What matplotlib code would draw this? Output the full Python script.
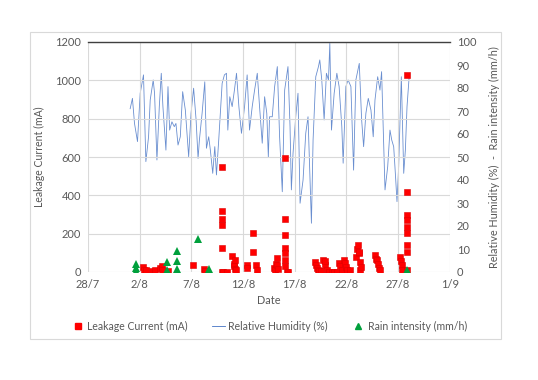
import matplotlib
matplotlib.use("Agg")
from matplotlib import pyplot as plt
from matplotlib.patches import Rectangle
import numpy as np
import pandas as pd

plt.rcParams['font.family'] = ['Lato', 'DejaVu Sans']

base = pd.Timestamp('2019-07-28')

# relative humidity trace (days after 28/7, %)
rh_day = [4.08, 4.30, 4.50, 4.79, 5.05, 5.37, 5.60, 5.86, 6.02, 6.31, 6.44, 6.67, 6.90, 7.09, 7.25,
          7.54, 7.74, 7.90, 8.12, 8.35, 8.51, 8.71, 8.93, 9.16, 9.42, 9.74, 9.97, 10.22, 10.46, 10.65,
          10.78, 11.04, 11.30, 11.46, 11.68, 11.84, 12.07, 12.27, 12.43, 12.65, 12.98, 13.20, 13.40,
          13.53, 13.72, 13.95, 14.17, 14.37, 14.60, 14.85, 15.15, 15.40, 15.63, 15.89, 16.12, 16.38,
          16.60, 16.86, 17.09, 17.30, 17.45, 17.57, 17.83, 18.06, 18.32, 18.54, 18.80, 19.03, 19.35,
          19.55, 19.68, 19.84, 20.10, 20.32, 20.52, 20.81, 21.07, 21.29, 21.62, 21.78, 22.04, 22.30,
          22.43, 22.62, 22.85, 23.07, 23.27, 23.40, 23.56, 23.82, 24.08, 24.30, 24.56, 24.69, 24.95,
          25.17, 25.44, 25.70, 25.92, 26.25, 26.48, 26.67, 26.89, 27.12, 27.38, 27.60, 27.77, 28.03,
          28.25, 28.41, 28.60, 28.74, 29.00, 29.22, 29.39, 29.58, 29.74, 29.90, 30.06, 30.32, 30.55,
          30.71, 30.87, 31.10]
rh_val = [71.0, 75.5, 64.6, 56.7, 77.7, 85.7, 48.0, 58.8, 74.8, 83.5, 77.7, 48.7, 71.9, 86.4, 71.9,
          53.0, 80.6, 61.7, 65.3, 63.2, 64.6, 55.2, 58.8, 78.4, 70.4, 50.1, 69.0, 79.9, 66.1, 49.4,
          57.4, 69.0, 82.7, 53.8, 58.8, 53.0, 42.9, 54.5, 42.2, 57.4, 82.0, 85.7, 86.4,
          61.7, 76.2, 71.9, 79.1, 86.4, 71.9, 60.3, 71.9, 85.7, 61.7, 71.9, 79.1, 86.4,
          71.9, 56.0, 76.2, 69.0, 50.0, 67.5, 67.5, 80.6, 89.3, 58.8, 34.9, 79.1, 89.3,
          63.2, 35.7, 51.6, 67.5, 77.7, 29.9, 40.0, 60.3, 67.5, 21.2, 57.4, 84.9, 89.3,
          92.2, 83.5, 66.1, 86.4, 83.5, 99.4, 61.7, 77.7, 86.4, 80.6, 63.2, 47.3, 80.6,
          83.5, 80.6, 44.3, 83.5, 90.7, 66.1, 54.5, 69.0, 75.5, 70.4, 58.8, 74.8, 84.9,
          79.1, 87.1, 57.4, 35.7, 45.8, 61.7, 57.4, 54.5, 42.9, 30.6, 45.8, 84.9, 42.9,
          53.0, 71.9, 86.4]

# leakage current (days after 28/7, mA)
lc_day = [5.30, 5.42, 5.60, 6.17, 6.49, 6.97, 7.13, 7.20, 7.77, 10.19, 11.23, 11.33,
          12.94, 12.94, 12.94, 12.94, 12.94, 12.94, 13.10, 13.43, 13.91, 14.10, 14.16, 14.23, 14.23,
          14.30, 15.36, 15.36, 15.94, 15.94, 16.26, 16.33,
          18.01, 18.05, 18.20, 18.27, 18.27, 18.35, 19.10, 19.10, 19.10, 19.10, 19.10, 19.10, 19.10,
          19.26, 19.36,
          21.97, 22.05, 22.14, 22.25, 22.35, 22.55, 22.78, 22.94, 22.90, 23.11, 23.30, 23.59, 23.80,
          24.08, 24.30, 24.40, 24.55, 24.78, 24.90, 24.98, 25.10, 25.36, 25.94, 26.05, 26.17, 26.20,
          26.25, 26.33, 26.33, 26.40, 27.78, 27.85, 27.95, 28.05, 28.15, 28.27, 30.20, 30.25, 30.37,
          30.37, 30.91, 30.91, 30.91, 30.91, 30.91, 30.91, 30.91, 30.91, 30.91]
lc_val = [25, 12, 8, 7, 10, 19, 31, 12, 5, 36, 14, 7,
          549, 320, 278, 245, 124, 2, 2, 2, 83, 40, 31, 63, 14,
          8, 37, 22, 202, 106, 37, 10,
          19, 8, 40, 71, 37, 15, 593, 275, 193, 124, 101, 63, 30,
          2, 2,
          54, 35, 19, 10, 5, 5, 63, 37, 55, 10, 2, 2, 2,
          2, 45, 30, 12, 63, 45, 28, 12, 10, 80, 120, 141, 100,
          106, 54, 10, 25, 89, 70, 63, 40, 20, 10, 80, 55, 37,
          10, 1030, 419, 297, 271, 236, 202, 141, 106, 10]

# rain intensity (days after 28/7, mm/h)
rain_day = [4.62, 4.62, 4.62, 7.62, 7.62, 8.58, 8.58, 8.64, 10.60, 11.71, 30.91]
rain_val = [3.5, 1.6, 0.3, 4.5, 0.9, 9.3, 4.9, 1.3, 14.2, 1.3, 0.9]

to_dt = lambda d: base + pd.to_timedelta(np.array(d), unit='D')

fig = plt.figure(figsize=(5.38, 3.8), dpi=100)
fig.patches.append(Rectangle((30 / 538, 1 - 339 / 380), 471 / 538, 307 / 380,
                             transform=fig.transFigure, fill=False, edgecolor='#D9D9D9', lw=0.8))
ax = fig.add_axes([88 / 538, 1 - 272 / 380, 361.7 / 538, 230 / 380])
ax2 = ax.twinx()

# left axes drawn on top so the squares/triangles sit over the humidity line
ax.set_zorder(ax2.get_zorder() + 1)
ax.patch.set_visible(False)

grey = '#595959'
ax2.set_ylim(0, 100)
ax.set_ylim(0, 1200)
ax2.plot(to_dt(rh_day), rh_val, color='#4472C4', lw=0.6, alpha=0.8)
ax.plot(to_dt(lc_day), lc_val, 's', color='#FF0000', ms=5, mec='#E00000', mew=0.4, zorder=3)
# rain belongs to the right axis; drawn in ax with the ax2 data transform to stay on top
ax.plot(to_dt(rain_day), rain_val, '^', color='#00A03C', ms=5.5, mew=0, zorder=4,
        transform=ax2.transData)

ticks = pd.date_range('2019-07-28', '2019-09-01', freq='5D')
ax.set_xlim(ticks[0], ticks[-1])
ax.set_xticks(ticks)
ax.set_xticklabels([f"{d.day}/{d.month}" for d in ticks])
ax.set_yticks(range(0, 1201, 200))
ax2.set_yticks(range(0, 101, 10))

for a in (ax, ax2):
    for s in a.spines.values():
        s.set_visible(False)
    a.tick_params(length=0, labelsize=8, colors=grey, pad=5)
ax.spines['top'].set_visible(True)
ax.spines['top'].set_color('#404040')
ax.spines['top'].set_linewidth(1.0)
ax.grid(True, color='#D9D9D9', lw=0.8)
ax.set_axisbelow(True)
ax2.grid(False)

ax.set_xlabel('Date', fontsize=7.8, color=grey, labelpad=4)
ax.set_ylabel('Leakage Current (mA)', fontsize=7.6, color=grey, labelpad=7)
ax2.set_ylabel('Relative Humidity (%)  -  Rain intensity (mm/h)', fontsize=7.8, color=grey, labelpad=9)

h1 = plt.Line2D([], [], marker='s', ls='', color='#FF0000', ms=4.5)
h2 = plt.Line2D([], [], color='#4472C4', lw=0.6)
h3 = plt.Line2D([], [], marker='^', ls='', color='#00A03C', ms=4.5)
leg = fig.legend([h1, h2, h3], ['Leakage Current (mA)', 'Relative Humidity (%)', 'Rain intensity (mm/h)'],
                 loc='center', bbox_to_anchor=(0.5, 1 - 326 / 380), ncol=3, frameon=False,
                 fontsize=7.6, handlelength=1.2, handletextpad=0.3, columnspacing=2.3)
for t in leg.get_texts():
    t.set_color(grey)

fig.savefig('out.png', dpi=100)
